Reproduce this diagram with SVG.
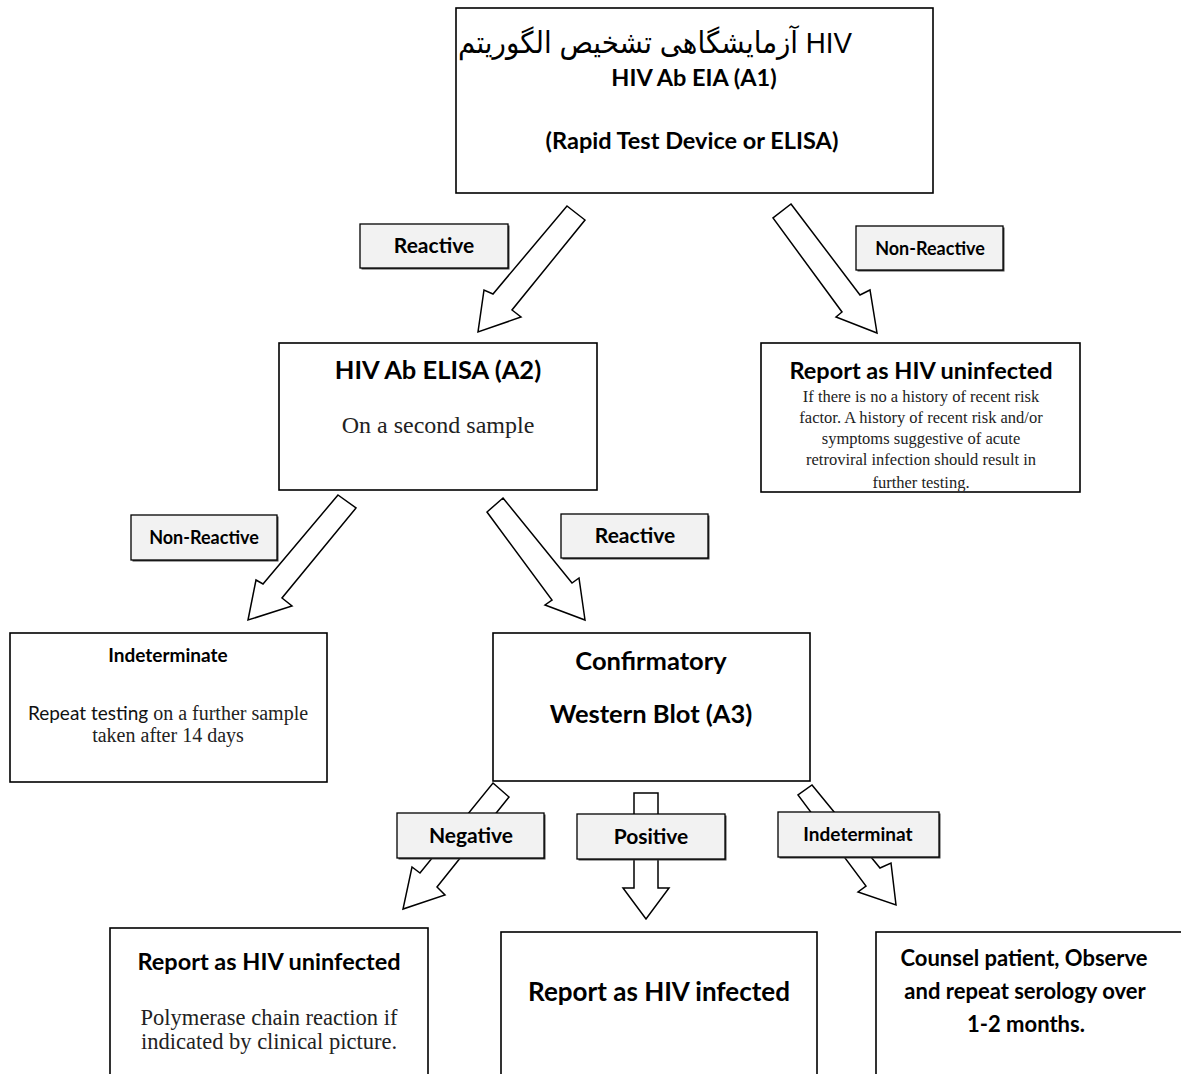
<svg xmlns="http://www.w3.org/2000/svg" width="1181" height="1074" viewBox="0 0 1181 1074">
<defs>
<style>
.box{fill:#fff;stroke:#000;stroke-width:1.6}
.lbl{fill:#f2f2f2;stroke:#000;stroke-width:1.3}
.shd{fill:#444}
.arr{fill:#fff;stroke:#000;stroke-width:1.5;stroke-linejoin:miter}
.b{font-family:Lato,"Liberation Sans",sans-serif;font-weight:bold;fill:#000;text-anchor:middle}
.s{font-family:Lato,"Liberation Sans",sans-serif;fill:#111}
.t{font-family:"Liberation Serif","DejaVu Serif",serif;fill:#222;text-anchor:middle}
.fa{font-family:"Liberation Sans","DejaVu Sans",sans-serif;font-size:30px;fill:#000;text-anchor:start}
</style>
<clipPath id="clipTop"><rect x="457" y="9" width="475" height="183"/></clipPath>
<clipPath id="clipRight"><rect x="761" y="343" width="319" height="148"/></clipPath>
</defs>

<g id="node-a1">
<rect class="box" x="456" y="8" width="477" height="185"/>
<g clip-path="url(#clipTop)">
<text class="fa" x="458" y="53" textLength="394" lengthAdjust="spacingAndGlyphs">الگوریتم&#x200E; تشخیص&#x200E; آزمایشگاهی&#x200E; HIV</text>
</g>
<text class="b" x="694" y="86" font-size="23.5">HIV Ab EIA (A1)</text>
<text class="b" x="692" y="149" font-size="23.5">(Rapid Test Device or ELISA)</text>
</g>

<g id="node-a2">
<rect class="box" x="279" y="343" width="318" height="147"/>
<text class="b" x="438" y="379" font-size="25.5">HIV Ab ELISA (A2)</text>
<text class="t" x="438" y="433" font-size="24">On a second sample</text>
</g>

<g id="node-uninfected-1">
<rect class="box" x="761" y="343" width="319" height="149"/>
<text class="b" x="921" y="379" font-size="23.5">Report as HIV uninfected</text>
<g clip-path="url(#clipRight)">
<text class="t" x="921" y="402" font-size="16.5">If there is no a history of recent risk</text>
<text class="t" x="921" y="423" font-size="16.5">factor. A history of recent risk and/or</text>
<text class="t" x="921" y="444" font-size="16.5">symptoms suggestive of acute</text>
<text class="t" x="921" y="465" font-size="16.5">retroviral infection should result in</text>
<text class="t" x="921" y="488" font-size="16.5">further testing.</text>
</g>
</g>

<g id="node-indeterminate">
<rect class="box" x="10" y="633" width="317" height="149"/>
<text class="b" x="168" y="662" font-size="19">Indeterminate</text>
<text x="168" y="720" text-anchor="middle"><tspan class="s" font-size="19">Repeat testing</tspan><tspan font-family="'Liberation Serif',serif" font-size="20" fill="#222"> on a further sample</tspan></text>
<text class="t" x="168" y="742" font-size="20">taken after 14 days</text>
</g>

<g id="node-confirmatory">
<rect class="box" x="493" y="633" width="317" height="148"/>
<text class="b" x="651" y="670" font-size="25.5">Confirmatory</text>
<text class="b" x="651" y="723" font-size="25.5">Western Blot (A3)</text>
</g>

<g id="node-uninfected-2">
<rect class="box" x="110" y="928" width="318" height="200"/>
<text class="b" x="269" y="970" font-size="23.5">Report as HIV uninfected</text>
<text class="t" x="269" y="1025" font-size="22.5">Polymerase chain reaction if</text>
<text class="t" x="269" y="1049" font-size="22.5">indicated by clinical picture.</text>
</g>

<g id="node-infected">
<rect class="box" x="501" y="932" width="316" height="200"/>
<text class="b" x="659" y="1001" font-size="26">Report as HIV infected</text>
</g>

<g id="node-counsel">
<rect class="box" x="876" y="932" width="330" height="200"/>
<text class="b" x="1024" y="966" font-size="22">Counsel patient, Observe</text>
<text class="b" x="1025" y="999" font-size="22">and repeat serology over</text>
<text class="b" x="1026" y="1032" font-size="22">1-2 months.</text>
</g>

<g id="connectors">
<polygon class="arr" points="567,206 585,220 512,310 521,317 478,332 484,290 493,294"/>
<polygon class="arr" points="791,204 860,295 870,290 877,333 836,317 842,312 773,218"/>
<polygon class="arr" points="338,495 356,508 282,598 292,606 248,620 256,580 263,584"/>
<polygon class="arr" points="503,498 572,583 579,578 585,620 545,605 552,600 487,512"/>
<polygon class="arr" points="493,783 509,797 437,887 445,895 403,909 412,867 420,873"/>
<polygon class="arr" points="634,793 658,793 658,888 669,888 646,919 623,888 634,888"/>
<polygon class="arr" points="812,785 880,868 891,863 896,905 858,892 866,886 798,795"/>
</g>

<g id="edge-labels">
<g id="lbl-reactive-1">
<rect class="shd" x="361.5" y="225.5" width="148" height="44"/>
<rect class="lbl" x="360" y="224" width="148" height="44"/>
<text class="b" x="434" y="253" font-size="21">Reactive</text>
</g>
<g id="lbl-nonreactive-1">
<rect class="shd" x="857.5" y="227.5" width="147" height="44"/>
<rect class="lbl" x="856" y="226" width="147" height="44"/>
<text class="b" x="930" y="255" font-size="18">Non-Reactive</text>
</g>
<g id="lbl-nonreactive-2">
<rect class="shd" x="132.5" y="516.5" width="146" height="45"/>
<rect class="lbl" x="131" y="515" width="146" height="45"/>
<text class="b" x="204" y="544" font-size="18">Non-Reactive</text>
</g>
<g id="lbl-reactive-2">
<rect class="shd" x="562.5" y="515.5" width="147" height="44"/>
<rect class="lbl" x="561" y="514" width="147" height="44"/>
<text class="b" x="635" y="543" font-size="21">Reactive</text>
</g>
<g id="lbl-negative">
<rect class="shd" x="398.5" y="814.5" width="147" height="45"/>
<rect class="lbl" x="397" y="813" width="147" height="45"/>
<text class="b" x="471" y="843" font-size="21">Negative</text>
</g>
<g id="lbl-positive">
<rect class="shd" x="578.5" y="815.5" width="148" height="45"/>
<rect class="lbl" x="577" y="814" width="148" height="45"/>
<text class="b" x="651" y="844" font-size="21">Positive</text>
</g>
<g id="lbl-indeterminat">
<rect class="shd" x="779.5" y="813.5" width="161" height="45"/>
<rect class="lbl" x="778" y="812" width="161" height="45"/>
<text class="b" x="858" y="841" font-size="19">Indeterminat</text>
</g>
</g>
</svg>
